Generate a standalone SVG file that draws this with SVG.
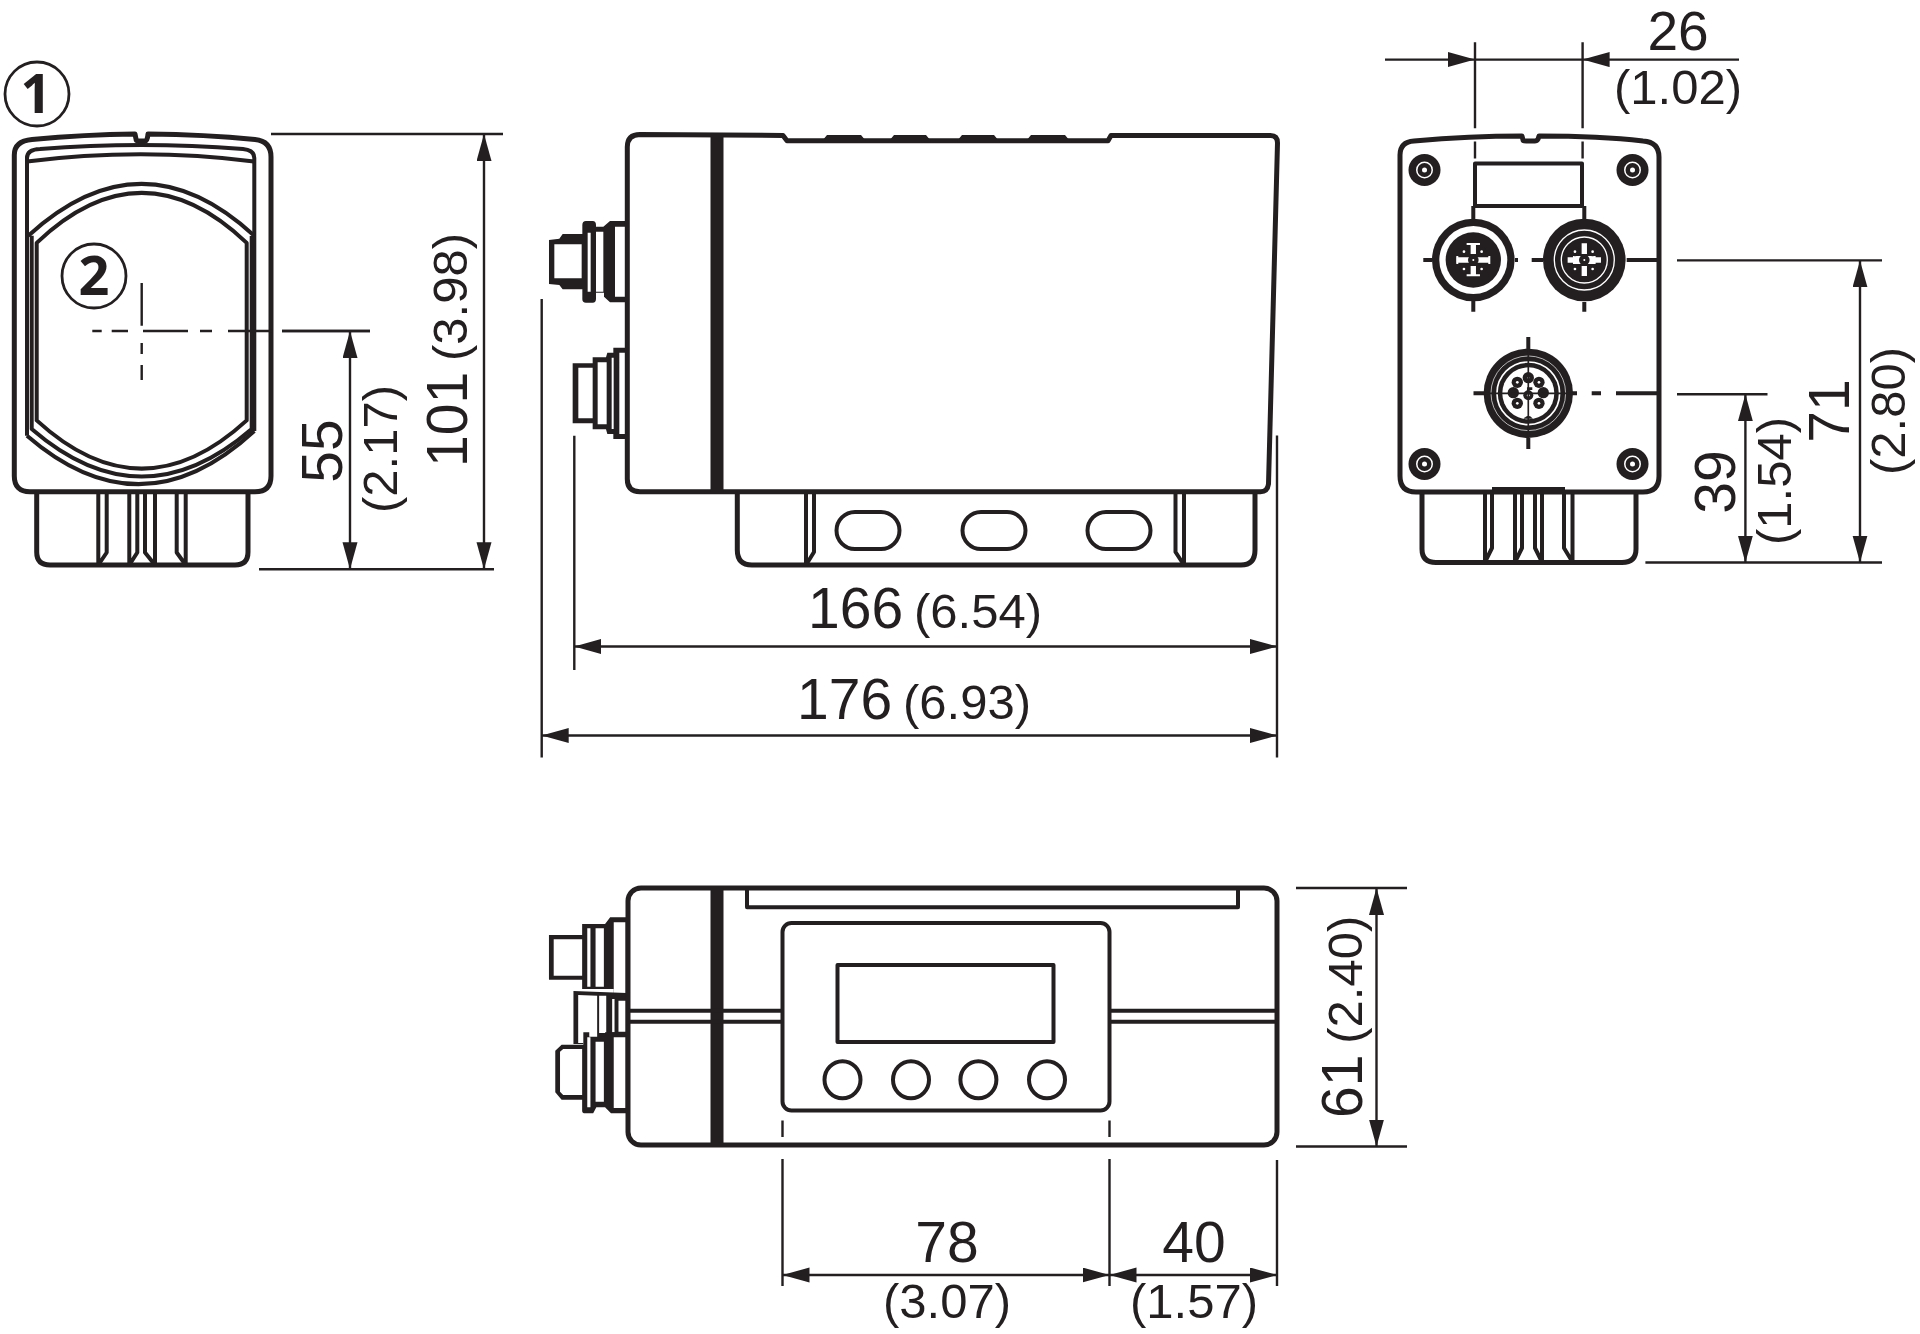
<svg xmlns="http://www.w3.org/2000/svg" width="1920" height="1334" viewBox="0 0 1920 1334">
<style>
text{font-family:"Liberation Sans",Arial,sans-serif;fill:#231f20;font-size:57px}
.s{font-size:49px}
.m{text-anchor:middle}
.b{font-family:"Open Sans","Liberation Sans",sans-serif;font-weight:700;font-size:54px;text-anchor:middle}
.o{fill:none;stroke:#231f20;stroke-width:5;stroke-linejoin:round;stroke-linecap:round}
.t{fill:none;stroke:#231f20;stroke-width:4;stroke-linejoin:round}
.c{fill:none;stroke:#231f20;stroke-width:2.8}
.w{fill:#fff;stroke:#231f20;stroke-width:5;stroke-linejoin:round}
.d{fill:none;stroke:#231f20;stroke-width:2.4}
.a{fill:none;stroke:#231f20;stroke-width:2.4;marker-start:url(#ar);marker-end:url(#ar)}
.e{fill:none;stroke:#231f20;stroke-width:2.4;marker-end:url(#ar)}
.k{fill:#231f20}
.h{fill:#fff}
.hl{fill:none;stroke:#fff}
</style>
<defs>
<marker id="ar" markerUnits="userSpaceOnUse" markerWidth="30" markerHeight="18" refX="27" refY="7.5" orient="auto-start-reverse"><path d="M0,0L27,7.5L0,15Z" fill="#231f20"/></marker>
</defs>
<rect width="1920" height="1334" fill="#fff"/>

<g id="view-front">
<path class="o" d="M36.7,492V552Q36.7,565 50,565H235Q248,565 248,552V492"/>
<path class="t" d="M98.3,492V565M106.7,492V552.5L98.3,565M129.3,492V565M137.3,492V552.5L129.3,565M145,492V552.5L155,565M155,492V565M176.7,492V552.5L185.7,565M185.7,492V565"/>
<path class="w" d="M14.3,155Q14.3,141 32,139.5Q85,134.5 135,134L136,139Q136,141 139,141H145Q147.5,141 148,134Q205,134.5 255,139.5Q271,141 271,157V476Q271,491.8 255,491.8H30Q14.3,491.8 14.3,476Z"/>
<path class="t" d="M27,435.7V158Q27,149.5 40,149Q141,141 243,149Q254.3,150 254.3,158V431"/>
<path class="t" d="M27,161.4Q141,147 254,161.4"/>
<path class="t" d="M28.3,235.7Q141.7,132 254.3,235.7"/>
<path class="t" d="M36.7,242.9Q141.7,143 246.7,242.9V420.4Q141.7,516.7 36.7,420.4Z"/>
<path class="t" d="M31.7,235.7V429Q141.7,524 251.7,429V236"/>
<path class="t" d="M27,435.7Q141.7,535 254.3,431"/>
</g>
<g id="callout-1"><circle class="c" cx="37" cy="94" r="32"/><text class="b" x="36" y="113">1</text></g>
<g id="callout-2"><circle class="c" cx="94" cy="276" r="32"/><text class="b" x="94" y="295">2</text></g>
<g id="front-center"><path class="d" d="M92.3,331H101.7M111.7,331H128M143,331H188M200,331H212M228,331H273M282,331H370M141.7,282.9V325.7M141.7,342.9V354M141.7,365V380"/></g>

<g id="view-side">
<g transform="translate(520 110) scale(.33333)">
<path class="k" d="M87,390L118,386L128,372H187V345Q187,333 198,333H218Q228,333 228,345V350H250L270,333H320V577H270L252,560V548H228V567Q228,578 218,578H198Q187,578 187,568V538H128L118,525L87,522Z"/>
<path class="h" d="M103,403H185V505H103ZM203,368H212V545H203ZM228,365H250V545H228ZM285,350H316V560H285Z"/>
<path class="k" d="M158,760H218V742H258L262,728H280V713H320V987H280V972H262L258,958H218V940H158Z"/>
<path class="h" d="M175,773H218V925H175ZM233,757H260V943H233ZM275,743H281V957H275ZM298,728H316V972H298Z"/>
</g>
<path class="o" d="M737.3,492V550Q737.3,565 752,565H1241Q1255,565 1255,550V492"/>
<path class="t" d="M806,492V565M814,492V552L806,565M1175.5,492V552L1184,565M1184,492V565"/>
<rect class="t" x="836.5" y="512" width="63" height="37" rx="18.5"/>
<rect class="t" x="962.5" y="512" width="63" height="37" rx="18.5"/>
<rect class="t" x="1087.5" y="512" width="63" height="37" rx="18.5"/>
<path class="w" d="M640,134.5L783,135.5L787,140.7H1108L1111,135.5H1270.5Q1277.5,135.5 1277.5,143L1268.5,484Q1267.5,491.7 1260.5,491.7H640Q627.3,491.7 627.3,479V147Q627.3,134.5 640,134.5Z"/>
<path class="k" d="M710.5,135H723.5V492H710.5ZM822,141L827,135H861L866,141ZM889,141L894,135H926L931,141ZM957,141L962,135H994L999,141ZM1026,141L1031,135H1065L1070,141Z"/>
</g>

<g id="view-top">
<g transform="translate(530 869) scale(.395 .33333)">
<path class="k" d="M48,198H132V165H190L203,145H245V372H212V360H132V332H48Z"/>
<path class="h" d="M60,211H132V320H60ZM145,178H153V353H145ZM166,178H187V353H166ZM212,160H242V372H212Z"/>
<path class="k" d="M110,366L245,372V520H135V525H110Z"/>
<path class="h" d="M122,378L170,380V522H122ZM175,380H193V492H175ZM208,390H214V490H208ZM224,395H242V488H224Z"/>
<path class="k" d="M135,527H80L64,545V670L80,692H132V725Q132,733 140,733H160L168,715H190L205,733H245V490H190V503H150V490H135Z"/>
<path class="h" d="M84,540H132V678H84L76,668V548ZM145,505H153V715H145ZM166,518H187V698H166ZM212,505H242V717H212Z"/>
</g>
<rect class="w" x="628" y="888" width="649" height="257" rx="13"/>
<rect class="k" x="710.5" y="888" width="13" height="257"/>
<path class="t" d="M747,890V907.3H1238V890"/>
<path class="t" d="M628,1010.7H782M628,1021.7H782M1109,1010.7H1277M1109,1021.7H1277"/>
<rect class="t" x="782.5" y="923" width="327" height="187.5" rx="9"/>
<rect class="t" x="837.5" y="965" width="216" height="77"/>
<ellipse class="t" cx="842.5" cy="1079.7" rx="18" ry="18.5"/>
<ellipse class="t" cx="911" cy="1079.7" rx="18" ry="18.5"/>
<ellipse class="t" cx="978.4" cy="1079.7" rx="18" ry="18.5"/>
<ellipse class="t" cx="1047" cy="1079.7" rx="18" ry="18.5"/>
</g>

<g id="view-rear">
<path class="o" d="M1422,492V549Q1422,562.5 1436,562.5H1622Q1636,562.5 1636,549V492"/>
<path class="t" d="M1485,492V562M1492,492V548L1485,562M1515,492V562M1522,492V548L1515,562M1535,492V548L1542,562M1542,492V562M1564,492V548L1572.5,562M1572.5,492V562"/>
<path class="w" d="M1400,155Q1400,142 1414,141Q1470,136 1522,136L1523,140Q1523,141 1526,141H1535Q1538,141 1539,136Q1600,136 1643,141Q1659,142 1659,157V476Q1659,492 1643,492H1416Q1400,492 1400,476Z"/>
<path class="k" d="M1492,492V487H1565V492Z"/>
<rect class="t" x="1475" y="163.5" width="107" height="42.5"/>
<g id="screws">
<g><circle class="k" cx="1424.5" cy="170" r="16"/><circle class="h" cx="1424.5" cy="170" r="8.5"/><circle class="k" cx="1424.5" cy="170" r="7"/><circle class="h" cx="1424.5" cy="170" r="2.5"/></g>
<g><circle class="k" cx="1632.5" cy="170" r="16"/><circle class="h" cx="1632.5" cy="170" r="8.5"/><circle class="k" cx="1632.5" cy="170" r="7"/><circle class="h" cx="1632.5" cy="170" r="2.5"/></g>
<g><circle class="k" cx="1424.5" cy="464" r="16"/><circle class="h" cx="1424.5" cy="464" r="8.5"/><circle class="k" cx="1424.5" cy="464" r="7"/><circle class="h" cx="1424.5" cy="464" r="2.5"/></g>
<g><circle class="k" cx="1632.5" cy="464" r="16"/><circle class="h" cx="1632.5" cy="464" r="8.5"/><circle class="k" cx="1632.5" cy="464" r="7"/><circle class="h" cx="1632.5" cy="464" r="2.5"/></g>
</g>
<g id="socket-1" transform="translate(1473.3 260) scale(.33333)">
<circle class="k" r="124"/><circle class="h" r="102"/><circle class="k" r="83"/>
<path class="hl" stroke-width="16" d="M-50,0H48M0,-50V-18M0,18V48"/>
<path class="hl" stroke-width="6" d="M-20,-48H20M-20,46H20M-48,-12V12M48,-12V12"/>
<g class="k"><circle r="16"/><circle cx="-28" cy="-25" r="14"/><circle cx="25" cy="-25" r="14"/><circle cx="-28" cy="27" r="14"/><circle cx="25" cy="27" r="14"/></g>
<g class="h"><circle r="3"/><circle cx="-28" cy="-25" r="4"/><circle cx="25" cy="-25" r="4"/><circle cx="-28" cy="27" r="4"/><circle cx="25" cy="27" r="4"/></g>
</g>
<g id="socket-2" transform="translate(1584.3 260) scale(.33333)">
<circle class="k" r="124"/>
<circle class="hl" r="90" stroke-width="4"/><circle class="hl" r="69" stroke-width="4"/>
<path class="hl" stroke-width="16" d="M-50,0H50M0,-50V-18M0,18V48"/>
<path class="hl" stroke-width="24" d="M-34,0H34"/>
<g class="k"><circle r="16"/><circle cx="-28" cy="-25" r="14"/><circle cx="25" cy="-25" r="14"/><circle cx="-28" cy="27" r="14"/><circle cx="25" cy="27" r="14"/></g>
<g class="h"><circle r="3"/><circle cx="-28" cy="-25" r="4"/><circle cx="25" cy="-25" r="4"/><circle cx="-28" cy="27" r="4"/><circle cx="25" cy="27" r="4"/></g>
</g>
<g id="socket-3" transform="translate(1528.3 393.3) scale(.33333)">
<circle class="k" r="134"/>
<circle class="hl" r="112" stroke-width="2"/><circle class="hl" r="94" stroke-width="5"/>
<circle class="h" r="78"/>
<path class="k" d="M-14,76Q0,58 14,76Z"/>
<g class="k"><circle cy="-47" r="17"/><circle cx="-33" cy="-33" r="17"/><circle cx="32" cy="-33" r="17"/><circle cx="-45" cy="-2" r="17"/><circle cx="45" cy="-2" r="17"/><circle cx="-33" cy="30" r="17"/><circle cx="32" cy="30" r="17"/><circle cy="6" r="15"/></g>
<path class="k" d="M-4,-18H12V-10H4V6H-4Z"/>
<g class="h"><circle cy="-47" r="3"/><circle cx="-33" cy="-33" r="4"/><circle cx="32" cy="-33" r="4"/><circle cx="-33" cy="30" r="4"/><circle cx="32" cy="30" r="4"/><circle cy="6" r="4"/></g>
<path d="M-134,0H134M0,-134V134" stroke="#231f20" stroke-width="5" fill="none"/>
</g>
<path class="t" stroke-width="2.4" d="M1423.3,260H1432.3M1515,260H1518M1473.3,206V219M1473.3,298V311.7M1531.7,260H1543M1626.7,260H1657M1584.3,206V219M1584.3,302V311.7M1473.5,393.3H1484M1572,393.3H1577M1591.7,393.3H1601M1616,393.3H1657M1528.3,337V349M1528.3,438V449"/>
</g>

<g id="connectors">
<path class="d" d="M271,134H503M259,569.3H494M282,331H370"/>
<path class="a" d="M484,134V569.3"/>
<path class="a" d="M350,331V569.3"/>
<path class="d" d="M541.7,299V757.5M574.3,435.7V670M1277,435.5V757.5"/>
<path class="a" d="M574.3,646.5H1277"/>
<path class="a" d="M541.7,735.5H1277"/>
<path class="d" d="M1475,42.3V128.3M1475,141.5V158.5M1582.6,42.3V128.3M1582.6,141.5V158.5"/>
<path class="e" d="M1385,59.6H1475"/><path class="e" d="M1739,59.6H1582.6"/><path class="d" d="M1475,59.6H1582.6"/>
<path class="d" d="M1677,260.4H1882M1645.4,562.5H1882M1677,394.3H1767.5"/>
<path class="a" d="M1860,260.4V562.5"/>
<path class="a" d="M1745.4,394.3V562.5"/>
<path class="d" d="M1296,888H1407M1296,1146.5H1407"/>
<path class="a" d="M1376.5,888V1146.5"/>
<path class="d" d="M782.5,1120.5V1137M782.5,1159V1286M1109.5,1120.5V1137M1109.5,1159V1286M1277,1160V1286"/>
<path class="a" d="M782.5,1275H1109.5"/>
<path class="a" d="M1109.5,1275H1277"/>
</g>

<g id="labels">
<text transform="translate(467 467) rotate(-90)">101 <tspan class="s" dx="-5">(3.98)</tspan></text>
<text class="m" transform="translate(342 451) rotate(-90)">55</text>
<text class="s m" transform="translate(397 449) rotate(-90)">(2.17)</text>
<text x="808" y="628">166 <tspan class="s" dx="-5">(6.54)</tspan></text>
<text x="797" y="718.5">176 <tspan class="s" dx="-5">(6.93)</tspan></text>
<text class="m" x="1678" y="50" style="font-size:55px">26</text>
<text class="s m" x="1678" y="104">(1.02)</text>
<text class="m" transform="translate(1735 482) rotate(-90)">39</text>
<text class="s m" transform="translate(1791 481) rotate(-90)">(1.54)</text>
<text class="m" transform="translate(1849 411) rotate(-90)">71</text>
<text class="s m" transform="translate(1905 411) rotate(-90)">(2.80)</text>
<text transform="translate(1362 1118) rotate(-90)">61 <tspan class="s" dx="-5">(2.40)</tspan></text>
<text class="m" x="947" y="1262">78</text>
<text class="s m" x="947" y="1318">(3.07)</text>
<text class="m" x="1194" y="1262">40</text>
<text class="s m" x="1194" y="1318">(1.57)</text>
</g>
</svg>
